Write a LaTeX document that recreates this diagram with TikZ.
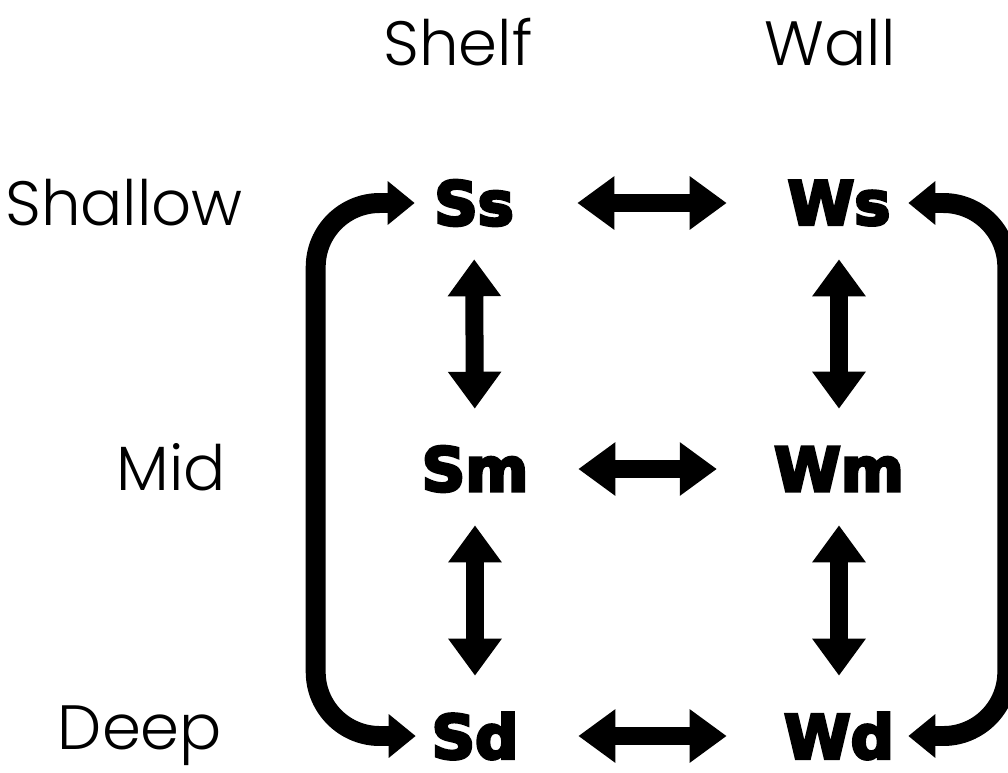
\documentclass[tikz,border=0pt]{standalone}
\usepackage{fontspec}
\setmainfont{Poppins}[UprightFont=* Light]
\newfontfamily\heavyfont{DejaVu Sans}[BoldFeatures={FakeBold=5}]
\usetikzlibrary{arrows.meta}

\begin{document}
\begin{tikzpicture}[x=0.025cm, y=-0.025cm,
    lbl/.style={inner sep=0pt, anchor=base, font=\fontsize{44.5}{48}\selectfont},
    zone/.style={inner sep=0pt, minimum width=2.75cm, minimum height=2cm,
        font=\heavyfont\bfseries\fontsize{43}{46}\selectfont},
    twoway/.style={line width=12.8pt,
        {Triangle[width=36.3pt,length=26.3pt]}-{Triangle[width=36.3pt,length=26.3pt]}},
    roundtrip/.style={line width=14.2pt, rounded corners=1.6cm,
        {Triangle[width=29.9pt,length=19.2pt]}-{Triangle[width=29.9pt,length=19.2pt]}}]

    \path[use as bounding box, fill=white] (0,0) rectangle (1008,772);

    \node [lbl] (shelf) at (458, 65) {Shelf};
    \node [lbl] (wall) at (830, 65) {Wall};
    \node [lbl] (shallow) at (124, 225) {Shallow};
    \node [lbl] (mid) at (171, 490) {Mid};
    \node [lbl] (deep) at (140, 749) {Deep};
    \node [zone] (Ss) at (474, 203) {Ss};
    \node [zone] (Ws) at (839, 203) {Ws};
    \node [zone] (Sm) at (475, 469) {Sm};
    \node [zone] (Wm) at (839, 469) {Wm};
    \node [zone] (Sd) at (475, 736) {Sd};
    \node [zone] (Wd) at (839, 736) {Wd};
    % edges
    \draw [twoway, shorten <=1.2cm, shorten >=1.425cm] (Ss) to (Ws);
    \draw [twoway, shorten <=1.2cm, shorten >=1.425cm] (Sm) to (Wm);
    \draw [twoway, shorten <=1.2cm, shorten >=1.425cm] (Sd) to (Wd);
    \draw [twoway, shorten <=0.4cm, shorten >=0.5cm] (Ss) to (Sm);
    \draw [twoway, shorten <=0.4cm, shorten >=0.5cm] (Sm) to (Sd);
    \draw [twoway, shorten <=0.4cm, shorten >=0.5cm] (Ws) to (Wm);
    \draw [twoway, shorten <=0.4cm, shorten >=0.5cm] (Wm) to (Wd);
    % brackets
    \draw [roundtrip, shorten <=0.1cm, shorten >=0.1cm] (Sd.west) -- ++(-104, 0) |- (Ss.west);
    \draw [roundtrip, shorten <=0.35cm, shorten >=0.35cm] (Wd.east) -- ++(113, 0) |- (Ws.east);
\end{tikzpicture}
\end{document}
